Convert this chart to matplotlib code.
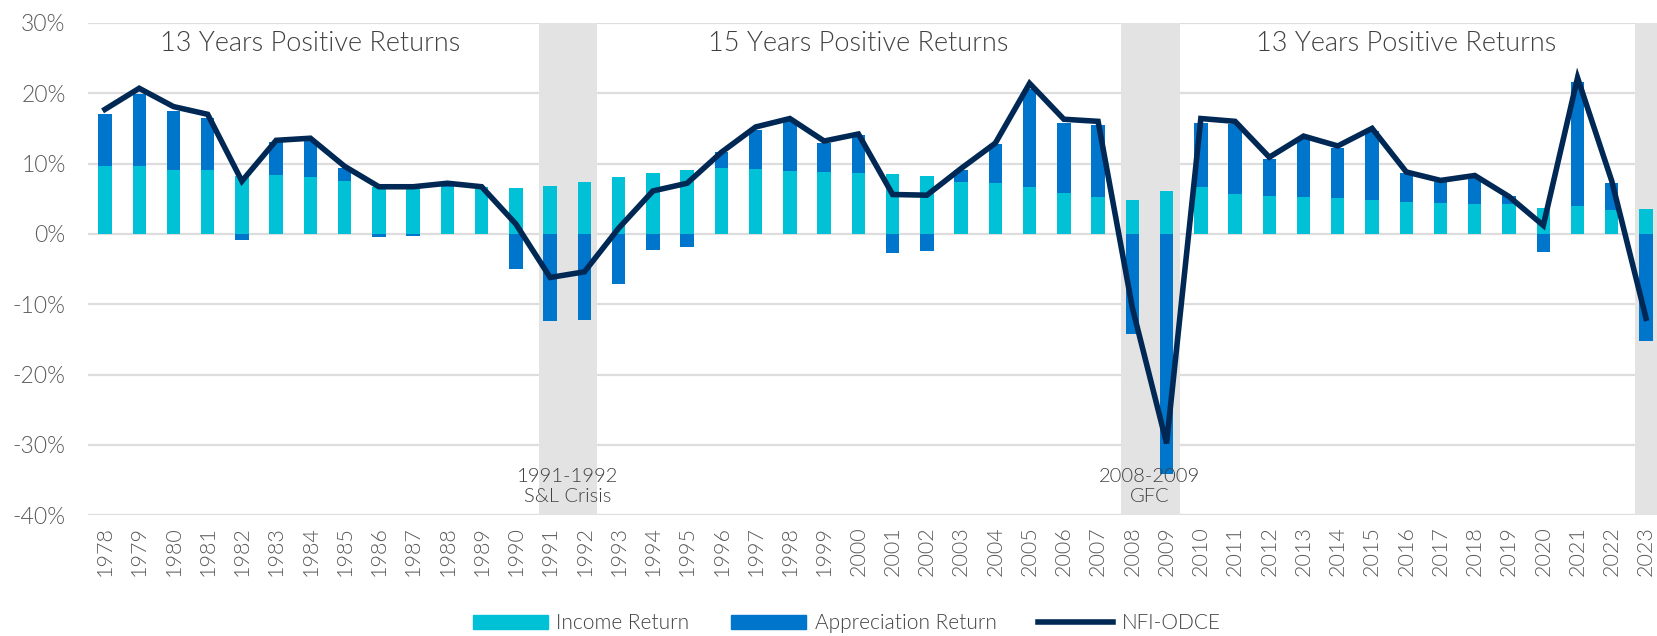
import numpy as np
import matplotlib
matplotlib.use('Agg')
import matplotlib.pyplot as plt
from matplotlib.patches import Patch
from matplotlib.lines import Line2D

plt.rcParams['font.family'] = ['Lato', 'DejaVu Sans']
plt.rcParams['font.weight'] = 300

years = list(range(1978, 2024))
income = [9.7, 9.6, 9.1, 9.1, 8.2, 8.3, 8.1, 7.5, 6.7, 6.5, 6.7, 6.7, 6.5,
          6.8, 7.4, 8.1, 8.6, 9.1, 9.4, 9.2, 9.0, 8.8, 8.7, 8.5, 8.2, 7.4,
          7.2, 6.6, 5.8, 5.2, 4.8, 6.1, 6.6, 5.6, 5.4, 5.3, 5.1, 4.8, 4.6,
          4.4, 4.3, 4.3, 3.7, 4.0, 3.4, 3.6]
appreciation = [7.4, 10.3, 8.4, 7.4, -0.9, 4.8, 5.3, 1.8, -0.4, -0.3, 0.2, 0.0, -5.0,
                -12.4, -12.2, -7.1, -2.3, -1.8, 2.2, 5.5, 7.0, 4.1, 5.3, -2.7, -2.4, 1.7,
                5.6, 14.0, 10.0, 10.3, -14.3, -34.2, 9.2, 10.0, 5.2, 8.2, 7.1, 9.8, 4.0,
                3.0, 3.7, 1.1, -2.6, 17.6, 3.9, -15.2]
odce = [17.7, 20.7, 18.1, 17.0, 7.5, 13.3, 13.6, 9.6, 6.7, 6.7, 7.2, 6.7, 1.4,
        -6.2, -5.4, 0.8, 6.1, 7.2, 11.6, 15.2, 16.4, 13.2, 14.2, 5.6, 5.5, 9.3,
        12.9, 21.4, 16.3, 16.0, -10.5, -29.8, 16.4, 16.0, 10.9, 13.9, 12.5, 15.0, 8.8,
        7.6, 8.3, 5.3, 1.2, 22.2, 7.5, -12.0]

periods = ['13 Years Positive Returns', '15 Years Positive Returns', '13 Years Positive Returns']
period_years = [(1978, 1990), (1993, 2007), (2010, 2022)]
crises = ['1991-1992\nS&L Crisis', '2008-2009\nGFC', '']
crisis_years = [(1991, 1992), (2008, 2009), (2023, 2023)]

c_income = '#00C1D5'
c_app = '#0075CC'
c_line = '#002855'
c_text = '#404040'

x = np.arange(len(years))
income = np.array(income)
appreciation = np.array(appreciation)

fig = plt.figure(figsize=(16.57, 6.36), dpi=100)
ax = fig.add_axes([0.053, 0.19, 0.947, 0.774])

for (a, b), label in zip(crisis_years, crises):
    ia, ib = years.index(a), years.index(b)
    ax.axvspan(ia - 0.33, ib + 0.38, color='#E3E3E3', zorder=1, lw=0)
    if label:
        ax.text((ia + ib) / 2, -35.9, label, ha='center', va='center',
                fontsize=14.5, color=c_text, linespacing=1.25, zorder=5)

ax.bar(x, income, width=0.39, color=c_income, zorder=2)
app_bottom = np.where(appreciation >= 0, income, 0)
ax.bar(x, appreciation, width=0.39, bottom=app_bottom, color=c_app, zorder=2)
ax.plot(x, odce, color=c_line, lw=4, zorder=3, solid_joinstyle='miter')

for label, (a, b) in zip(periods, period_years):
    ax.text((years.index(a) + years.index(b)) / 2, 27, label, ha='center', va='center',
            fontsize=19.5, color=c_text, zorder=5)

ax.set_xlim(-0.5, 45.32)
ax.set_ylim(-40, 30)
ax.set_yticks(np.arange(-40, 31, 10))
ax.set_yticklabels([f'{v}%' for v in range(-40, 31, 10)])
ax.set_xticks(x)
ax.set_xticklabels([str(y) for y in years], rotation=90)
ax.tick_params(axis='y', length=0, pad=16, labelsize=16.5, labelcolor='#595959')
ax.tick_params(axis='x', length=0, pad=8, labelsize=15.5, labelcolor='#595959')
ax.grid(axis='y', color='#DDDDDD', lw=1.6, zorder=0)
ax.set_axisbelow(True)
for s in ax.spines.values():
    s.set_visible(False)

handles = [Patch(color=c_income), Patch(color=c_app), Line2D([], [], color=c_line, lw=4)]
fig.legend(handles, ['Income Return', 'Appreciation Return', 'NFI-ODCE'],
           loc='center', bbox_to_anchor=(0.511, 0.02), ncol=3, frameon=False,
           fontsize=15, handlelength=3.6, handleheight=0.65, handletextpad=0.4,
           columnspacing=2.0, labelcolor=c_text)

fig.savefig('out.png', dpi=100)
